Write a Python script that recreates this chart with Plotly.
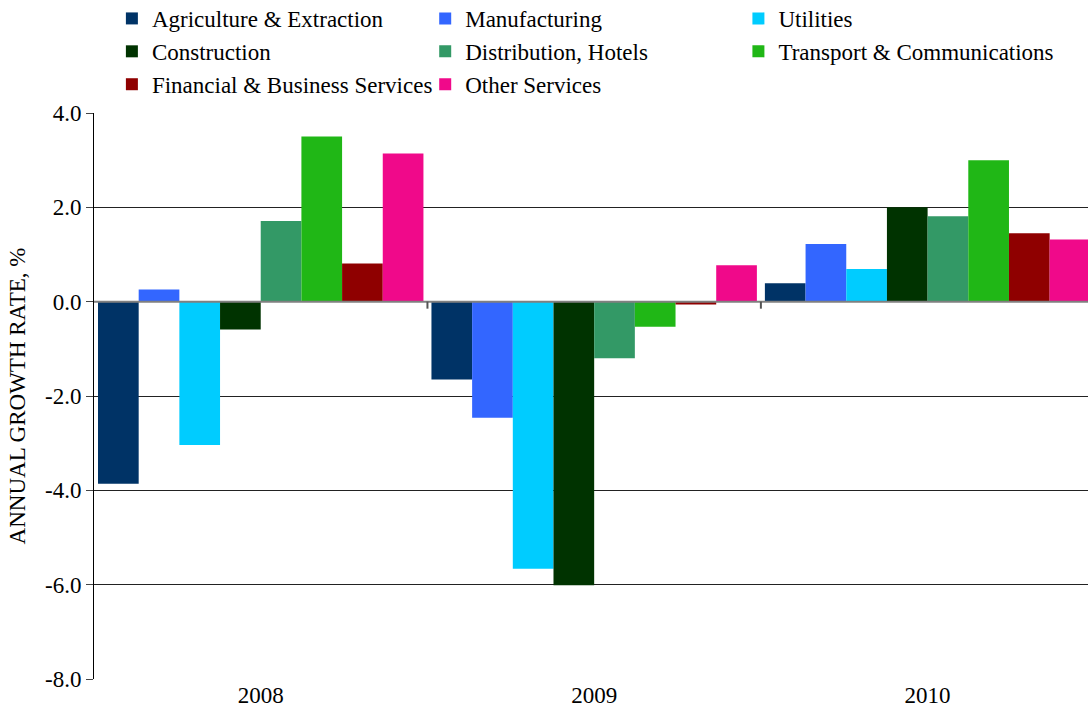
import plotly.graph_objects as go

# Annual growth rate by sector, %
years = ["2008", "2009", "2010"]

sectors = [
    "Agriculture & Extraction",
    "Manufacturing",
    "Utilities",
    "Construction",
    "Distribution, Hotels",
    "Transport & Communications",
    "Financial & Business Services",
    "Other Services",
]

agriculture = [-3.86, -1.65, 0.39]
manufacturing = [0.26, -2.46, 1.22]
utilities = [-3.04, -5.66, 0.69]
construction = [-0.59, -6.01, 2.00]
distribution = [1.71, -1.20, 1.81]
transport = [3.50, -0.53, 3.00]
financial = [0.81, -0.06, 1.45]
other_services = [3.14, 0.77, 1.32]

series = [agriculture, manufacturing, utilities, construction,
          distribution, transport, financial, other_services]

colors = ["#003366", "#3366FF", "#00CCFF", "#003300",
          "#339966", "#20B716", "#8F0000", "#F0098A"]

y_ticks = [4, 2, 0, -2, -4, -6, -8]
y_tick_labels = ["4.0", "2.0", "0.0", "-2.0", "-4.0", "-6.0", "-8.0"]

FONT = "Liberation Serif"

# legend laid out as three columns, filled row by row
legend_ids = ["legend", "legend2", "legend3"]

fig = go.Figure()
for i, (name, vals, col) in enumerate(zip(sectors, series, colors)):
    fig.add_trace(go.Bar(
        x=years, y=vals, name=name,
        marker=dict(color=col, line=dict(width=0)),
        legend=legend_ids[i % 3],
    ))

# horizontal axis drawn through zero, with category-boundary ticks hanging below it
fig.add_shape(type="line", xref="paper", yref="y", x0=0, x1=1, y0=0, y1=0,
              line=dict(color="#808080", width=2), layer="above")
for b in [0.5, 1.5]:
    fig.add_shape(type="line", xref="x", yref="y", x0=b, x1=b,
                  ysizemode="pixel", yanchor=0, y0=0, y1=-7,
                  line=dict(color="#555555", width=2), layer="above")

legend_style = dict(
    orientation="v", xanchor="left", y=1.205, yanchor="top",
    font=dict(family=FONT, size=23, color="black"),
    bgcolor="rgba(0,0,0,0)", traceorder="normal",
)

fig.update_layout(
    width=1088, height=718,
    margin=dict(l=94, r=0, t=113, b=39, autoexpand=False),
    paper_bgcolor="white", plot_bgcolor="white",
    font=dict(family=FONT, size=23, color="black"),
    barmode="group", bargap=0.024, bargroupgap=0,
    showlegend=True,
    legend=dict(x=0.018, **legend_style),
    legend2=dict(x=0.3332, **legend_style),
    legend3=dict(x=0.6483, **legend_style),
    xaxis=dict(
        type="category", range=[-0.5, 2.481],
        showgrid=False, zeroline=False, showline=False,
        ticks="", tickfont=dict(size=23),
    ),
    yaxis=dict(
        range=[-8, 4], tickvals=y_ticks, ticktext=y_tick_labels,
        showgrid=True, gridcolor="#222222", gridwidth=1,
        zeroline=False,
        showline=True, linecolor="black", linewidth=1,
        ticks="outside", ticklen=7, tickcolor="#444444",
        tickfont=dict(size=23),
        title=dict(text="ANNUAL GROWTH RATE, %", font=dict(size=23), standoff=12),
    ),
)

fig.write_html("out.html")
